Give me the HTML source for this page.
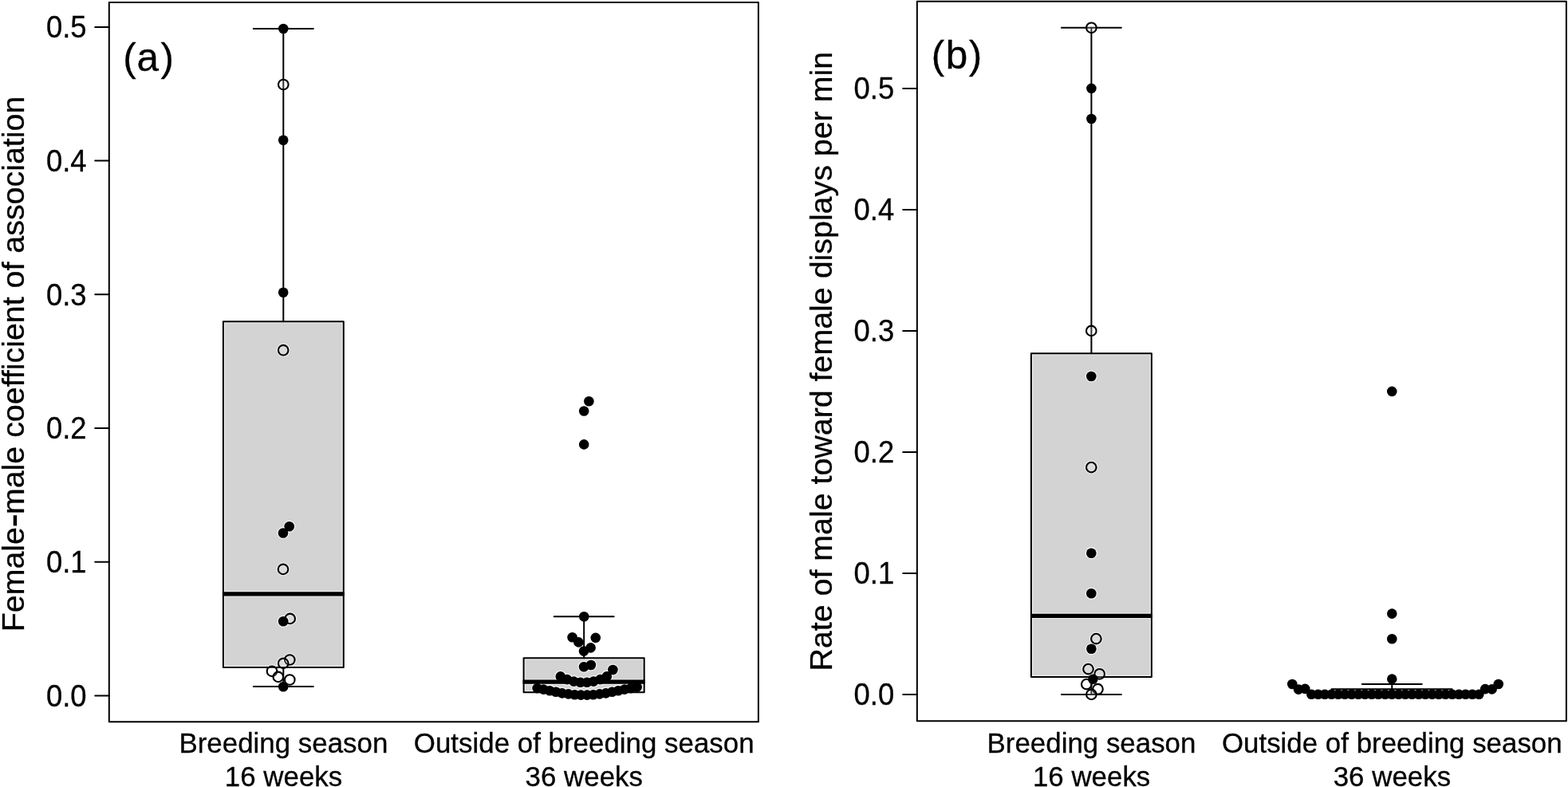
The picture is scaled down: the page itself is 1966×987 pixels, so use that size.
<!DOCTYPE html>
<html lang="en"><head><meta charset="utf-8"><title>Figure</title>
<style>
html,body{margin:0;padding:0;background:#fff;}
body{width:1966px;height:987px;overflow:hidden;}
svg{display:block;}
text{font-family:"Liberation Sans",Arial,Helvetica,sans-serif;fill:#000;stroke:#000;stroke-width:.3px;}
.ln{stroke:#000;stroke-width:2.0;fill:none;stroke-linecap:round;}
.fr{stroke:#000;stroke-width:2.0;fill:none;stroke-linejoin:round;}
.bf{stroke:none;fill:#d3d3d3;}
.bx{stroke:#000;stroke-width:2.0;fill:none;stroke-linejoin:round;}
.md{stroke:#000;stroke-width:5.2;fill:none;stroke-linecap:butt;}
.fd{fill:#000;stroke:none;}
.od{fill:#fff;fill-opacity:.2;stroke:#000;stroke-width:2.1;}
.hl{fill:none;stroke:#fff;stroke-opacity:.75;}
.hb{fill:none;stroke:#fff;stroke-opacity:.6;stroke-width:1.2;}
.tk{font-size:36.4px;text-anchor:end;}
.xl{font-size:34.9px;text-anchor:middle;}
.yl{text-anchor:start;}
.pl{font-size:49.4px;text-anchor:start;letter-spacing:1.6px;}
</style></head><body>
<svg width="1966" height="987" viewBox="0 0 1966 987">
<rect x="0" y="0" width="1966" height="987" fill="#fff"/>
<rect class="fr" x="136.80" y="2.9" width="814.10" height="902.4"/>
<line class="ln" x1="119.2" y1="872.5" x2="136.8" y2="872.5"/>
<text class="tk" transform="translate(108.6 885.85) scale(1 1.07)">0.0</text>
<line class="ln" x1="119.2" y1="704.8" x2="136.8" y2="704.8"/>
<text class="tk" transform="translate(108.6 718.13) scale(1 1.07)">0.1</text>
<line class="ln" x1="119.2" y1="537.1" x2="136.8" y2="537.1"/>
<text class="tk" transform="translate(108.6 550.41) scale(1 1.07)">0.2</text>
<line class="ln" x1="119.2" y1="369.3" x2="136.8" y2="369.3"/>
<text class="tk" transform="translate(108.6 382.69) scale(1 1.07)">0.3</text>
<line class="ln" x1="119.2" y1="201.6" x2="136.8" y2="201.6"/>
<text class="tk" transform="translate(108.6 214.97) scale(1 1.07)">0.4</text>
<line class="ln" x1="119.2" y1="33.9" x2="136.8" y2="33.9"/>
<text class="tk" transform="translate(108.6 47.25) scale(1 1.07)">0.5</text>
<text class="yl" style="font-size:39.37px" transform="translate(29.9 792.25) rotate(-90)">Female<tspan font-size="52" dx="-0.5" dy="3.2">-</tspan><tspan dx="-0.9" dy="-3.2">male coefficient of association</tspan></text>
<text class="pl" x="0 17.3 47.1" transform="translate(154.3 88.5) scale(1 1.03)">(a)</text>
<rect class="bf" x="279.9" y="403.2" width="150.9" height="433.7"/>
<rect class="bf" x="656.6" y="825.3" width="151.1" height="42.9"/>
<rect class="hb" x="281.5" y="404.8" width="147.7" height="430.5"/>
<line class="hb" x1="281.5" y1="741.6" x2="429.2" y2="741.6"/>
<line class="hb" x1="281.5" y1="748.0" x2="429.2" y2="748.0"/>
<rect class="hb" x="658.2" y="826.9" width="147.9" height="39.7"/>
<line class="hb" x1="658.2" y1="852.0" x2="806.1" y2="852.0"/>
<line class="hb" x1="658.2" y1="858.4" x2="806.1" y2="858.4"/>
<circle class="hl" cx="355.3" cy="36.0" r="6.90" stroke-width="1.4"/>
<circle class="hl" cx="355.3" cy="106.0" r="7.80" stroke-width="1.2"/>
<circle class="hl" cx="355.2" cy="175.8" r="6.90" stroke-width="1.4"/>
<circle class="hl" cx="355.2" cy="366.8" r="6.90" stroke-width="1.4"/>
<circle class="hl" cx="355.2" cy="439.2" r="7.80" stroke-width="1.2"/>
<circle class="hl" cx="362.7" cy="660.3" r="6.90" stroke-width="1.4"/>
<circle class="hl" cx="355.0" cy="668.5" r="6.90" stroke-width="1.4"/>
<circle class="hl" cx="355.0" cy="713.9" r="7.80" stroke-width="1.2"/>
<circle class="hl" cx="363.7" cy="775.9" r="7.80" stroke-width="1.2"/>
<circle class="hl" cx="355.2" cy="779.3" r="6.90" stroke-width="1.4"/>
<circle class="hl" cx="363.3" cy="827.5" r="7.80" stroke-width="1.2"/>
<circle class="hl" cx="355.2" cy="831.9" r="7.80" stroke-width="1.2"/>
<circle class="hl" cx="341.0" cy="841.8" r="7.80" stroke-width="1.2"/>
<circle class="hl" cx="348.8" cy="848.9" r="7.80" stroke-width="1.2"/>
<circle class="hl" cx="363.3" cy="852.5" r="7.80" stroke-width="1.2"/>
<circle class="hl" cx="355.2" cy="861.3" r="6.90" stroke-width="1.4"/>
<circle class="hl" cx="738.4" cy="503.2" r="6.90" stroke-width="1.4"/>
<circle class="hl" cx="732.2" cy="515.5" r="6.90" stroke-width="1.4"/>
<circle class="hl" cx="732.2" cy="557.4" r="6.90" stroke-width="1.4"/>
<circle class="hl" cx="732.3" cy="773.2" r="6.90" stroke-width="1.4"/>
<circle class="hl" cx="717.6" cy="799.3" r="6.90" stroke-width="1.4"/>
<circle class="hl" cx="725.4" cy="805.4" r="6.90" stroke-width="1.4"/>
<circle class="hl" cx="746.8" cy="799.9" r="6.90" stroke-width="1.4"/>
<circle class="hl" cx="740.6" cy="812.4" r="6.90" stroke-width="1.4"/>
<circle class="hl" cx="732.0" cy="816.6" r="6.90" stroke-width="1.4"/>
<circle class="hl" cx="740.9" cy="834.0" r="6.90" stroke-width="1.4"/>
<circle class="hl" cx="732.1" cy="836.2" r="6.90" stroke-width="1.4"/>
<circle class="hl" cx="768.4" cy="840.0" r="6.90" stroke-width="1.4"/>
<circle class="hl" cx="702.8" cy="848.4" r="6.90" stroke-width="1.4"/>
<circle class="hl" cx="711.1" cy="852.1" r="6.90" stroke-width="1.4"/>
<circle class="hl" cx="719.4" cy="854.6" r="6.90" stroke-width="1.4"/>
<circle class="hl" cx="727.7" cy="855.8" r="6.90" stroke-width="1.4"/>
<circle class="hl" cx="735.9" cy="855.8" r="6.90" stroke-width="1.4"/>
<circle class="hl" cx="744.2" cy="854.6" r="6.90" stroke-width="1.4"/>
<circle class="hl" cx="752.5" cy="852.1" r="6.90" stroke-width="1.4"/>
<circle class="hl" cx="760.8" cy="848.4" r="6.90" stroke-width="1.4"/>
<circle class="hl" cx="673.6" cy="863.1" r="6.90" stroke-width="1.4"/>
<circle class="hl" cx="681.4" cy="864.6" r="6.90" stroke-width="1.4"/>
<circle class="hl" cx="689.2" cy="866.2" r="6.90" stroke-width="1.4"/>
<circle class="hl" cx="697.0" cy="867.8" r="6.90" stroke-width="1.4"/>
<circle class="hl" cx="704.8" cy="869.4" r="6.90" stroke-width="1.4"/>
<circle class="hl" cx="712.7" cy="870.4" r="6.90" stroke-width="1.4"/>
<circle class="hl" cx="720.5" cy="871.2" r="6.90" stroke-width="1.4"/>
<circle class="hl" cx="728.3" cy="871.6" r="6.90" stroke-width="1.4"/>
<circle class="hl" cx="736.1" cy="871.6" r="6.90" stroke-width="1.4"/>
<circle class="hl" cx="743.9" cy="871.2" r="6.90" stroke-width="1.4"/>
<circle class="hl" cx="751.8" cy="870.4" r="6.90" stroke-width="1.4"/>
<circle class="hl" cx="759.6" cy="869.4" r="6.90" stroke-width="1.4"/>
<circle class="hl" cx="767.4" cy="867.8" r="6.90" stroke-width="1.4"/>
<circle class="hl" cx="775.2" cy="866.2" r="6.90" stroke-width="1.4"/>
<circle class="hl" cx="783.0" cy="864.6" r="6.90" stroke-width="1.4"/>
<circle class="hl" cx="790.9" cy="863.1" r="6.90" stroke-width="1.4"/>
<circle class="hl" cx="798.7" cy="861.6" r="6.90" stroke-width="1.4"/>
<line class="ln" x1="355.3" y1="36.0" x2="355.3" y2="403.2"/>
<line class="ln" x1="317.8" y1="36.0" x2="392.8" y2="36.0"/>
<line class="ln" x1="355.3" y1="836.9" x2="355.3" y2="860.9"/>
<line class="ln" x1="317.8" y1="860.9" x2="392.8" y2="860.9"/>
<rect class="bx" x="279.9" y="403.2" width="150.9" height="433.7"/>
<line class="md" x1="278.9" y1="744.8" x2="431.8" y2="744.8"/>
<line class="ln" x1="732.2" y1="773.3" x2="732.2" y2="825.3"/>
<line class="ln" x1="694.7" y1="773.3" x2="769.7" y2="773.3"/>
<rect class="bx" x="656.6" y="825.3" width="151.1" height="42.9"/>
<line class="md" x1="655.6" y1="855.2" x2="808.7" y2="855.2"/>
<circle class="od" cx="355.3" cy="106.0" r="6.30"/>
<circle class="od" cx="355.2" cy="439.2" r="6.30"/>
<circle class="od" cx="355.0" cy="713.9" r="6.30"/>
<circle class="od" cx="363.7" cy="775.9" r="6.30"/>
<circle class="od" cx="363.3" cy="827.5" r="6.30"/>
<circle class="od" cx="355.2" cy="831.9" r="6.30"/>
<circle class="od" cx="341.0" cy="841.8" r="6.30"/>
<circle class="od" cx="348.8" cy="848.9" r="6.30"/>
<circle class="od" cx="363.3" cy="852.5" r="6.30"/>
<circle class="fd" cx="355.3" cy="36.0" r="6.30"/>
<circle class="fd" cx="355.2" cy="175.8" r="6.30"/>
<circle class="fd" cx="355.2" cy="366.8" r="6.30"/>
<circle class="fd" cx="362.7" cy="660.3" r="6.30"/>
<circle class="fd" cx="355.0" cy="668.5" r="6.30"/>
<circle class="fd" cx="355.2" cy="779.3" r="6.30"/>
<circle class="fd" cx="355.2" cy="861.3" r="6.30"/>
<circle class="fd" cx="738.4" cy="503.2" r="6.30"/>
<circle class="fd" cx="732.2" cy="515.5" r="6.30"/>
<circle class="fd" cx="732.2" cy="557.4" r="6.30"/>
<circle class="fd" cx="732.3" cy="773.2" r="6.30"/>
<circle class="fd" cx="717.6" cy="799.3" r="6.30"/>
<circle class="fd" cx="725.4" cy="805.4" r="6.30"/>
<circle class="fd" cx="746.8" cy="799.9" r="6.30"/>
<circle class="fd" cx="740.6" cy="812.4" r="6.30"/>
<circle class="fd" cx="732.0" cy="816.6" r="6.30"/>
<circle class="fd" cx="740.9" cy="834.0" r="6.30"/>
<circle class="fd" cx="732.1" cy="836.2" r="6.30"/>
<circle class="fd" cx="768.4" cy="840.0" r="6.30"/>
<circle class="fd" cx="702.8" cy="848.4" r="6.30"/>
<circle class="fd" cx="711.1" cy="852.1" r="6.30"/>
<circle class="fd" cx="719.4" cy="854.6" r="6.30"/>
<circle class="fd" cx="727.7" cy="855.8" r="6.30"/>
<circle class="fd" cx="735.9" cy="855.8" r="6.30"/>
<circle class="fd" cx="744.2" cy="854.6" r="6.30"/>
<circle class="fd" cx="752.5" cy="852.1" r="6.30"/>
<circle class="fd" cx="760.8" cy="848.4" r="6.30"/>
<circle class="fd" cx="673.6" cy="863.1" r="6.30"/>
<circle class="fd" cx="681.4" cy="864.6" r="6.30"/>
<circle class="fd" cx="689.2" cy="866.2" r="6.30"/>
<circle class="fd" cx="697.0" cy="867.8" r="6.30"/>
<circle class="fd" cx="704.8" cy="869.4" r="6.30"/>
<circle class="fd" cx="712.7" cy="870.4" r="6.30"/>
<circle class="fd" cx="720.5" cy="871.2" r="6.30"/>
<circle class="fd" cx="728.3" cy="871.6" r="6.30"/>
<circle class="fd" cx="736.1" cy="871.6" r="6.30"/>
<circle class="fd" cx="743.9" cy="871.2" r="6.30"/>
<circle class="fd" cx="751.8" cy="870.4" r="6.30"/>
<circle class="fd" cx="759.6" cy="869.4" r="6.30"/>
<circle class="fd" cx="767.4" cy="867.8" r="6.30"/>
<circle class="fd" cx="775.2" cy="866.2" r="6.30"/>
<circle class="fd" cx="783.0" cy="864.6" r="6.30"/>
<circle class="fd" cx="790.9" cy="863.1" r="6.30"/>
<circle class="fd" cx="798.7" cy="861.6" r="6.30"/>
<text class="xl" x="355.4" y="943.7">Breeding season</text>
<text class="xl" x="355.5" y="985.8">16 weeks</text>
<text class="xl" x="732.2" y="943.7">Outside of breeding season</text>
<text class="xl" x="732.3" y="985.8">36 weeks</text>
<rect class="fr" x="1149.85" y="1.8" width="814.05" height="902.4"/>
<line class="ln" x1="1132.2" y1="870.9" x2="1149.8" y2="870.9"/>
<text class="tk" transform="translate(1121.2 884.25) scale(1 1.07)">0.0</text>
<line class="ln" x1="1132.2" y1="718.9" x2="1149.8" y2="718.9"/>
<text class="tk" transform="translate(1121.2 732.25) scale(1 1.07)">0.1</text>
<line class="ln" x1="1132.2" y1="566.9" x2="1149.8" y2="566.9"/>
<text class="tk" transform="translate(1121.2 580.25) scale(1 1.07)">0.2</text>
<line class="ln" x1="1132.2" y1="414.9" x2="1149.8" y2="414.9"/>
<text class="tk" transform="translate(1121.2 428.25) scale(1 1.07)">0.3</text>
<line class="ln" x1="1132.2" y1="262.9" x2="1149.8" y2="262.9"/>
<text class="tk" transform="translate(1121.2 276.25) scale(1 1.07)">0.4</text>
<line class="ln" x1="1132.2" y1="110.9" x2="1149.8" y2="110.9"/>
<text class="tk" transform="translate(1121.2 124.25) scale(1 1.07)">0.5</text>
<text class="yl" style="font-size:39.37px" transform="translate(1042.9 841.55) rotate(-90)">Rate of male toward female displays per min</text>
<text class="pl" transform="translate(1167.7 86.1) scale(1 1.03)">(b)</text>
<rect class="bf" x="1292.9" y="443.3" width="151.0" height="405.7"/>
<rect class="bf" x="1669.6" y="864.2" width="151.0" height="7.3"/>
<rect class="hb" x="1294.5" y="444.9" width="147.8" height="402.5"/>
<line class="hb" x1="1294.5" y1="769.1" x2="1442.3" y2="769.1"/>
<line class="hb" x1="1294.5" y1="775.5" x2="1442.3" y2="775.5"/>
<circle class="hl" cx="1368.4" cy="34.8" r="7.80" stroke-width="1.2"/>
<circle class="hl" cx="1368.4" cy="110.9" r="6.90" stroke-width="1.4"/>
<circle class="hl" cx="1368.4" cy="149.0" r="6.90" stroke-width="1.4"/>
<circle class="hl" cx="1368.3" cy="414.9" r="7.80" stroke-width="1.2"/>
<circle class="hl" cx="1368.3" cy="472.0" r="6.90" stroke-width="1.4"/>
<circle class="hl" cx="1368.3" cy="586.1" r="7.80" stroke-width="1.2"/>
<circle class="hl" cx="1368.3" cy="693.7" r="6.90" stroke-width="1.4"/>
<circle class="hl" cx="1368.3" cy="744.3" r="6.90" stroke-width="1.4"/>
<circle class="hl" cx="1374.4" cy="801.1" r="7.80" stroke-width="1.2"/>
<circle class="hl" cx="1368.4" cy="813.8" r="6.90" stroke-width="1.4"/>
<circle class="hl" cx="1364.5" cy="839.1" r="7.80" stroke-width="1.2"/>
<circle class="hl" cx="1378.7" cy="845.3" r="7.80" stroke-width="1.2"/>
<circle class="hl" cx="1362.3" cy="858.1" r="7.80" stroke-width="1.2"/>
<circle class="hl" cx="1376.5" cy="864.2" r="7.80" stroke-width="1.2"/>
<circle class="hl" cx="1368.4" cy="870.9" r="7.80" stroke-width="1.2"/>
<circle class="hl" cx="1370.4" cy="851.7" r="6.90" stroke-width="1.4"/>
<circle class="hl" cx="1745.3" cy="490.9" r="6.90" stroke-width="1.4"/>
<circle class="hl" cx="1745.3" cy="769.6" r="6.90" stroke-width="1.4"/>
<circle class="hl" cx="1745.3" cy="801.3" r="6.90" stroke-width="1.4"/>
<circle class="hl" cx="1745.3" cy="851.6" r="6.90" stroke-width="1.4"/>
<circle class="hl" cx="1620.3" cy="858.0" r="6.90" stroke-width="1.4"/>
<circle class="hl" cx="1628.1" cy="864.6" r="6.90" stroke-width="1.4"/>
<circle class="hl" cx="1636.3" cy="863.9" r="6.90" stroke-width="1.4"/>
<circle class="hl" cx="1862.2" cy="864.1" r="6.90" stroke-width="1.4"/>
<circle class="hl" cx="1870.6" cy="864.4" r="6.90" stroke-width="1.4"/>
<circle class="hl" cx="1878.8" cy="858.0" r="6.90" stroke-width="1.4"/>
<circle class="hl" cx="1644.3" cy="870.8" r="6.90" stroke-width="1.4"/>
<circle class="hl" cx="1652.7" cy="870.8" r="6.90" stroke-width="1.4"/>
<circle class="hl" cx="1661.1" cy="870.8" r="6.90" stroke-width="1.4"/>
<circle class="hl" cx="1669.5" cy="870.8" r="6.90" stroke-width="1.4"/>
<circle class="hl" cx="1677.9" cy="870.8" r="6.90" stroke-width="1.4"/>
<circle class="hl" cx="1686.3" cy="870.8" r="6.90" stroke-width="1.4"/>
<circle class="hl" cx="1694.7" cy="870.8" r="6.90" stroke-width="1.4"/>
<circle class="hl" cx="1703.1" cy="870.8" r="6.90" stroke-width="1.4"/>
<circle class="hl" cx="1711.5" cy="870.8" r="6.90" stroke-width="1.4"/>
<circle class="hl" cx="1719.9" cy="870.8" r="6.90" stroke-width="1.4"/>
<circle class="hl" cx="1728.3" cy="870.8" r="6.90" stroke-width="1.4"/>
<circle class="hl" cx="1736.7" cy="870.8" r="6.90" stroke-width="1.4"/>
<circle class="hl" cx="1745.1" cy="870.8" r="6.90" stroke-width="1.4"/>
<circle class="hl" cx="1753.6" cy="870.8" r="6.90" stroke-width="1.4"/>
<circle class="hl" cx="1762.0" cy="870.8" r="6.90" stroke-width="1.4"/>
<circle class="hl" cx="1770.4" cy="870.8" r="6.90" stroke-width="1.4"/>
<circle class="hl" cx="1778.8" cy="870.8" r="6.90" stroke-width="1.4"/>
<circle class="hl" cx="1787.2" cy="870.8" r="6.90" stroke-width="1.4"/>
<circle class="hl" cx="1795.6" cy="870.8" r="6.90" stroke-width="1.4"/>
<circle class="hl" cx="1804.0" cy="870.8" r="6.90" stroke-width="1.4"/>
<circle class="hl" cx="1812.4" cy="870.8" r="6.90" stroke-width="1.4"/>
<circle class="hl" cx="1820.8" cy="870.8" r="6.90" stroke-width="1.4"/>
<circle class="hl" cx="1829.2" cy="870.8" r="6.90" stroke-width="1.4"/>
<circle class="hl" cx="1837.6" cy="870.8" r="6.90" stroke-width="1.4"/>
<circle class="hl" cx="1846.0" cy="870.8" r="6.90" stroke-width="1.4"/>
<circle class="hl" cx="1854.4" cy="870.8" r="6.90" stroke-width="1.4"/>
<line class="ln" x1="1368.4" y1="34.8" x2="1368.4" y2="443.3"/>
<line class="ln" x1="1330.9" y1="34.8" x2="1405.9" y2="34.8"/>
<line class="ln" x1="1368.4" y1="849.0" x2="1368.4" y2="870.9"/>
<line class="ln" x1="1330.9" y1="870.9" x2="1405.9" y2="870.9"/>
<rect class="bx" x="1292.9" y="443.3" width="151.0" height="405.7"/>
<line class="md" x1="1291.9" y1="772.3" x2="1444.9" y2="772.3"/>
<line class="ln" x1="1745.3" y1="858.1" x2="1745.3" y2="864.2"/>
<line class="ln" x1="1707.8" y1="858.1" x2="1782.8" y2="858.1"/>
<rect class="bx" x="1669.6" y="864.2" width="151.0" height="7.3"/>
<line class="md" x1="1668.6" y1="870.9" x2="1821.6" y2="870.9"/>
<circle class="od" cx="1368.4" cy="34.8" r="6.30"/>
<circle class="od" cx="1368.3" cy="414.9" r="6.30"/>
<circle class="od" cx="1368.3" cy="586.1" r="6.30"/>
<circle class="od" cx="1374.4" cy="801.1" r="6.30"/>
<circle class="od" cx="1364.5" cy="839.1" r="6.30"/>
<circle class="od" cx="1378.7" cy="845.3" r="6.30"/>
<circle class="od" cx="1362.3" cy="858.1" r="6.30"/>
<circle class="od" cx="1376.5" cy="864.2" r="6.30"/>
<circle class="od" cx="1368.4" cy="870.9" r="6.30"/>
<circle class="fd" cx="1368.4" cy="110.9" r="6.30"/>
<circle class="fd" cx="1368.4" cy="149.0" r="6.30"/>
<circle class="fd" cx="1368.3" cy="472.0" r="6.30"/>
<circle class="fd" cx="1368.3" cy="693.7" r="6.30"/>
<circle class="fd" cx="1368.3" cy="744.3" r="6.30"/>
<circle class="fd" cx="1368.4" cy="813.8" r="6.30"/>
<circle class="fd" cx="1370.4" cy="851.7" r="6.30"/>
<circle class="fd" cx="1745.3" cy="490.9" r="6.30"/>
<circle class="fd" cx="1745.3" cy="769.6" r="6.30"/>
<circle class="fd" cx="1745.3" cy="801.3" r="6.30"/>
<circle class="fd" cx="1745.3" cy="851.6" r="6.30"/>
<circle class="fd" cx="1620.3" cy="858.0" r="6.30"/>
<circle class="fd" cx="1628.1" cy="864.6" r="6.30"/>
<circle class="fd" cx="1636.3" cy="863.9" r="6.30"/>
<circle class="fd" cx="1862.2" cy="864.1" r="6.30"/>
<circle class="fd" cx="1870.6" cy="864.4" r="6.30"/>
<circle class="fd" cx="1878.8" cy="858.0" r="6.30"/>
<circle class="fd" cx="1644.3" cy="870.8" r="6.30"/>
<circle class="fd" cx="1652.7" cy="870.8" r="6.30"/>
<circle class="fd" cx="1661.1" cy="870.8" r="6.30"/>
<circle class="fd" cx="1669.5" cy="870.8" r="6.30"/>
<circle class="fd" cx="1677.9" cy="870.8" r="6.30"/>
<circle class="fd" cx="1686.3" cy="870.8" r="6.30"/>
<circle class="fd" cx="1694.7" cy="870.8" r="6.30"/>
<circle class="fd" cx="1703.1" cy="870.8" r="6.30"/>
<circle class="fd" cx="1711.5" cy="870.8" r="6.30"/>
<circle class="fd" cx="1719.9" cy="870.8" r="6.30"/>
<circle class="fd" cx="1728.3" cy="870.8" r="6.30"/>
<circle class="fd" cx="1736.7" cy="870.8" r="6.30"/>
<circle class="fd" cx="1745.1" cy="870.8" r="6.30"/>
<circle class="fd" cx="1753.6" cy="870.8" r="6.30"/>
<circle class="fd" cx="1762.0" cy="870.8" r="6.30"/>
<circle class="fd" cx="1770.4" cy="870.8" r="6.30"/>
<circle class="fd" cx="1778.8" cy="870.8" r="6.30"/>
<circle class="fd" cx="1787.2" cy="870.8" r="6.30"/>
<circle class="fd" cx="1795.6" cy="870.8" r="6.30"/>
<circle class="fd" cx="1804.0" cy="870.8" r="6.30"/>
<circle class="fd" cx="1812.4" cy="870.8" r="6.30"/>
<circle class="fd" cx="1820.8" cy="870.8" r="6.30"/>
<circle class="fd" cx="1829.2" cy="870.8" r="6.30"/>
<circle class="fd" cx="1837.6" cy="870.8" r="6.30"/>
<circle class="fd" cx="1846.0" cy="870.8" r="6.30"/>
<circle class="fd" cx="1854.4" cy="870.8" r="6.30"/>
<text class="xl" x="1368.5" y="943.7">Breeding season</text>
<text class="xl" x="1368.6" y="985.8">16 weeks</text>
<text class="xl" x="1745.3" y="943.7">Outside of breeding season</text>
<text class="xl" x="1745.4" y="985.8">36 weeks</text>
</svg></body></html>
